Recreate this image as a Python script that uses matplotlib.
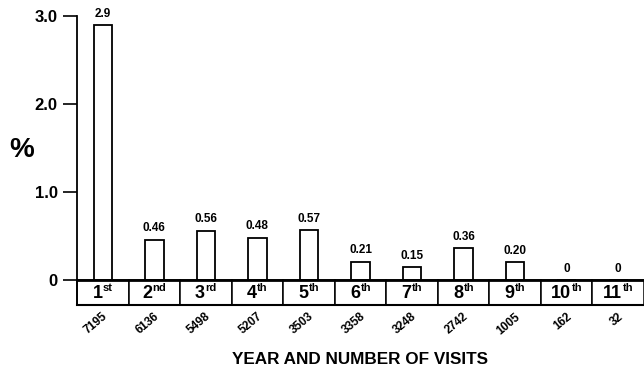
import matplotlib
matplotlib.use("Agg")
import matplotlib.pyplot as plt
from matplotlib.patches import Rectangle
from matplotlib.transforms import offset_copy

plt.rcParams["font.family"] = ["Liberation Sans", "DejaVu Sans"]

# Data
years = ["1", "2", "3", "4", "5", "6", "7", "8", "9", "10", "11"]
suffixes = ["st", "nd", "rd", "th", "th", "th", "th", "th", "th", "th", "th"]
percent = [2.9, 0.46, 0.56, 0.48, 0.57, 0.21, 0.15, 0.36, 0.20, 0, 0]
value_labels = ["2.9", "0.46", "0.56", "0.48", "0.57", "0.21", "0.15", "0.36", "0.20", "0", "0"]
visits = ["7195", "6136", "5498", "5207", "3503", "3358", "3248", "2742", "1005", "162", "32"]
y_ticks = [0, 1, 2, 3]
y_tick_labels = ["0", "1.0", "2.0", "3.0"]

fig = plt.figure(figsize=(6.44, 3.73), dpi=100)
ax = fig.add_axes([0.1196, 0.1823, 0.8804, 0.7747])

n = len(years)
x = list(range(n))
row_h = 0.284

ax.bar(x, percent, width=0.36, color="white", edgecolor="black", linewidth=1.3, zorder=3)

for i, (v, lab) in enumerate(zip(percent, value_labels)):
    ax.text(i, v + 0.06, lab, ha="center", va="bottom", fontsize=8.5, fontweight="bold")

ax.set_xlim(-0.5, n - 0.5)
ax.set_ylim(-row_h, 3.0)

# Year row under the baseline: ordinal number with a raised suffix, centred per cell
renderer = fig.canvas.get_renderer()
gap_pt = 0.3
for i in range(n):
    ax.add_patch(Rectangle((i - 0.5, -row_h), 1.0, row_h, facecolor="white",
                           edgecolor="black", linewidth=1.1, clip_on=False, zorder=2))
    num = ax.text(i, -row_h / 2 - 0.01, years[i], ha="left", va="center",
                  fontsize=13, fontweight="bold")
    sup = ax.text(i, -row_h / 2 + 0.05, suffixes[i], ha="left", va="center",
                  fontsize=8, fontweight="bold")
    w_num = num.get_window_extent(renderer).width * 72 / fig.dpi
    w_sup = sup.get_window_extent(renderer).width * 72 / fig.dpi
    total = w_num + gap_pt + w_sup
    num.set_transform(offset_copy(ax.transData, fig=fig, x=-total / 2, y=0, units="points"))
    sup.set_transform(offset_copy(ax.transData, fig=fig, x=-total / 2 + w_num + gap_pt,
                                  y=0, units="points"))
    ax.text(i + 0.06, -0.40, visits[i], ha="right", va="center", rotation=40,
            rotation_mode="anchor", fontsize=8.5, fontweight="bold")

ax.axhline(0, color="black", linewidth=2, zorder=4)
ax.axhline(-row_h, color="black", linewidth=1.5, zorder=4, clip_on=False)

ax.set_yticks(y_ticks)
ax.set_yticklabels(y_tick_labels, fontsize=12, fontweight="bold")
ax.set_xticks([])
ax.tick_params(axis="y", direction="out", length=10, width=1.2, pad=4)
for side in ["top", "right", "bottom"]:
    ax.spines[side].set_visible(False)
ax.spines["left"].set_linewidth(1.3)

fig.text(0.033, 0.598, "%", ha="center", va="center", fontsize=20, fontweight="bold")
fig.text(0.559, 0.0375, "YEAR AND NUMBER OF VISITS", ha="center", va="center",
         fontsize=12.3, fontweight="bold")

fig.savefig("out.png", dpi=100)
